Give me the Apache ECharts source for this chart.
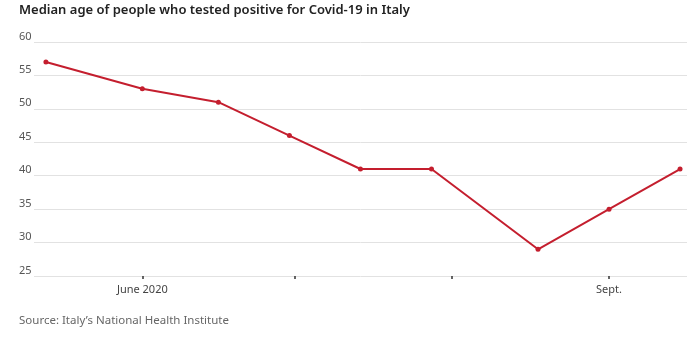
<!DOCTYPE html>
<html>
<head>
<meta charset="utf-8">
<script src="https://cdn.jsdelivr.net/npm/echarts@6/dist/echarts.min.js"></script>
<style>
  html, body { margin: 0; padding: 0; background: #fff; }
  #chart { width: 700px; height: 340px; }
</style>
</head>
<body>
<div id="chart"></div>
<script>
// Median age of positive cases, per reporting date
const dates = ['2020-05-13', '2020-06-01', '2020-06-16', '2020-06-30', '2020-07-14',
               '2020-07-28', '2020-08-18', '2020-09-01', '2020-09-15'];
const medianAge = [57, 53, 51, 46, 41, 41, 29, 35, 41];

// Axis ticks and labels
const yTicks = [25, 30, 35, 40, 45, 50, 55, 60];
const monthTicks = ['2020-06-01', '2020-07-01', '2020-08-01', '2020-09-01'];
const monthLabels = ['June 2020', '', '', 'Sept.'];

// x positions are days counted from June 1, 2020
const DAY = 86400000;
const origin = Date.UTC(2020, 5, 1);
const dayOf = s => (new Date(s + 'T00:00:00Z').getTime() - origin) / DAY;
const monthDays = monthTicks.map(dayOf);

const chart = echarts.init(document.getElementById('chart'), null, { renderer: 'canvas' });

chart.setOption({
  animation: false,
  backgroundColor: '#ffffff',
  textStyle: { fontFamily: 'Noto Sans, sans-serif' },
  title: [
    {
      text: 'Median age of people who tested positive for Covid-19 in Italy',
      left: 19, top: 4, padding: 0,
      textStyle: { fontSize: 13, fontWeight: 600, color: '#222', fontFamily: 'Noto Sans, sans-serif' }
    },
    {
      text: 'Source: Italy\u2019s National Health Institute',
      left: 19, top: 315, padding: 0,
      textStyle: { fontSize: 11.5, fontWeight: 'normal', color: '#666', fontFamily: 'Noto Sans, sans-serif' }
    }
  ],
  grid: { left: 34, right: 13, top: 42, bottom: 64, containLabel: false },
  xAxis: {
    type: 'value',
    min: -21.35,
    max: 107.37,
    axisLine: { show: false },
    splitLine: { show: false },
    axisTick: {
      show: true,
      length: 3,
      lineStyle: { color: '#333', width: 1.5 },
      customValues: monthDays
    },
    axisLabel: {
      customValues: monthDays,
      color: '#444',
      fontSize: 11,
      margin: 8,
      formatter: v => {
        const i = monthDays.indexOf(v);
        return i >= 0 ? monthLabels[i] : '';
      }
    }
  },
  yAxis: {
    type: 'value',
    min: 25, max: 60, interval: 5,
    axisLine: { show: false },
    axisTick: { show: false },
    splitLine: { lineStyle: { color: '#e2e2e2', width: 1 } },
    axisLabel: {
      color: '#555',
      fontSize: 11,
      align: 'left',
      verticalAlign: 'bottom',
      margin: 15,
      formatter: v => (yTicks.includes(v) ? String(v) : '')
    }
  },
  series: [{
    type: 'line',
    data: dates.map((d, i) => [dayOf(d), medianAge[i]]),
    symbol: 'circle',
    symbolSize: 5,
    lineStyle: { color: '#c41e2e', width: 2 },
    itemStyle: { color: '#c41e2e' }
  }]
});
</script>
</body>
</html>
